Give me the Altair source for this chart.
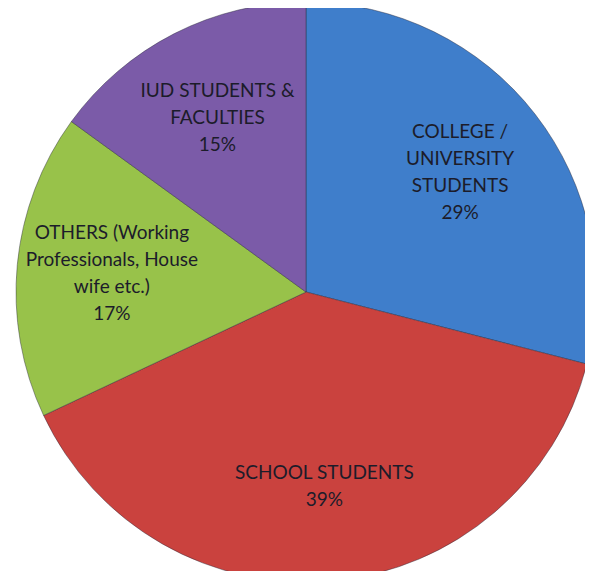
import altair as alt
import pandas as pd

categories = ["COLLEGE / UNIVERSITY STUDENTS", "SCHOOL STUDENTS",
              "OTHERS (Working Professionals, House wife etc.)", "IUD STUDENTS & FACULTIES"]
values = [29, 39, 17, 15]
label_lines = [
    ["COLLEGE /", "UNIVERSITY", "STUDENTS"],
    ["SCHOOL STUDENTS"],
    ["OTHERS (Working", "Professionals, House", "wife etc.)"],
    ["IUD STUDENTS &", "FACULTIES"],
]
colors = ["#3F7ECB", "#CA423E", "#98C24A", "#7B5BA8"]

labels_full = [lines + [f"{v}%"] for lines, v in zip(label_lines, values)]
df = pd.DataFrame({
    "category": categories,
    "value": values,
    "order": list(range(len(categories))),
    "label": labels_full,
    "nlines": [len(l) for l in labels_full],
})
total = sum(values)

CX, CY = 298, 284
LH = 27
theta_scale = alt.Scale(domain=[0, total])

arcs = alt.Chart(df).mark_arc(
    radius=290, stroke="#2a2a3a", strokeWidth=0.8, strokeOpacity=0.55
).encode(
    theta=alt.Theta("value:Q", stack=True, scale=theta_scale),
    order=alt.Order("order:Q"),
    x=alt.value(CX),
    y=alt.value(CY),
    color=alt.Color("category:N",
                    scale=alt.Scale(domain=categories, range=colors),
                    legend=None),
)

text_base = alt.Chart(df).transform_window(
    cum="sum(value)", sort=[alt.SortField("order", order="ascending")], frame=[None, 0]
).transform_calculate(
    mid="datum.cum - datum.value / 2"
)

layers = [arcs]
for n in sorted(set(df["nlines"])):
    layers.append(
        text_base.transform_filter(alt.datum.nlines == n).mark_text(
            radius=195, font="Lato", fontSize=19, lineHeight=LH,
            align="center", baseline="middle", color="#1c1c2a",
            dy=-(n - 1) * LH / 2,
        ).encode(
            theta=alt.Theta("mid:Q", stack=None, scale=theta_scale),
            x=alt.value(CX),
            y=alt.value(CY),
            text="label:N",
        )
    )

chart = alt.layer(*layers).properties(
    width=577, height=563, padding=0, background="white",
    autosize=alt.AutoSizeParams(type="none"),
).configure_view(stroke=None)

chart.save("out.html", embed_options={"renderer": "svg", "actions": False})
